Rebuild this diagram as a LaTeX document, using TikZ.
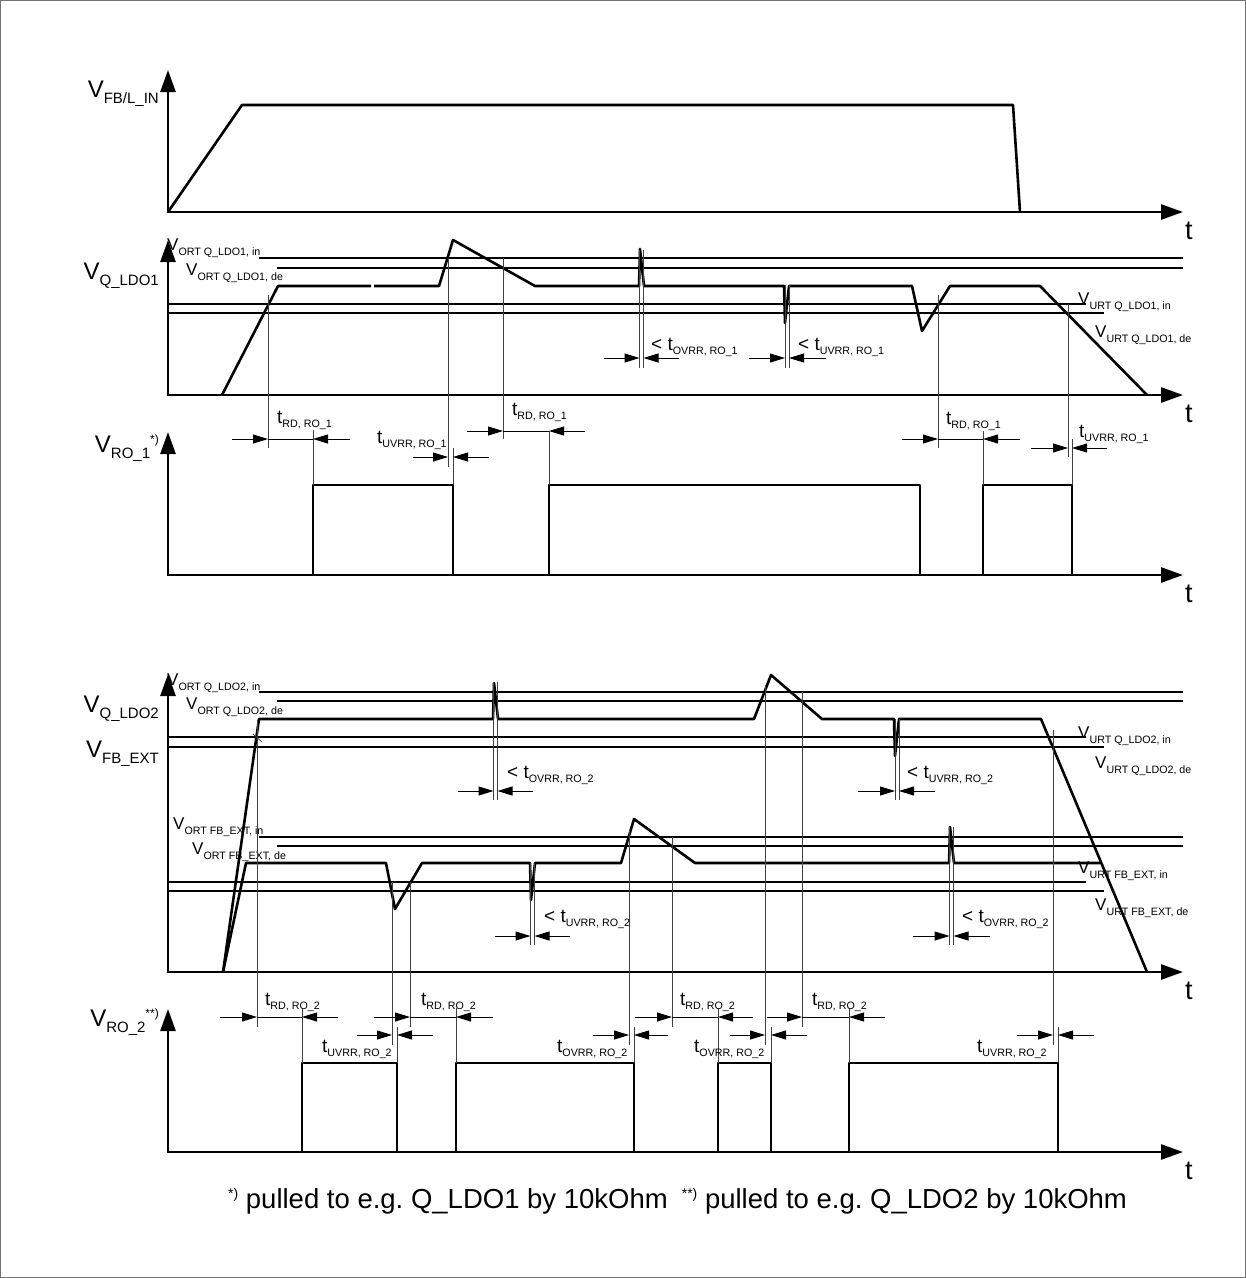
\documentclass[tikz,border=0pt]{standalone}
\usepackage{fontspec}
\setmainfont{Liberation Sans}
\usetikzlibrary{arrows.meta}
\frenchspacing
\newcommand{\tlabx}[1]{{\fontsize{19}{19}\selectfont t}{\fontsize{10.7}{10.7}\selectfont\raisebox{-4pt}{#1}}}
\newcommand{\ltlabx}[1]{{\fontsize{19}{19}\selectfont < t}{\fontsize{10.7}{10.7}\selectfont\raisebox{-4pt}{#1}}}
\newcommand{\vlabx}[1]{{\fontsize{17}{17}\selectfont V}{\fontsize{10.7}{10.7}\selectfont\raisebox{-5pt}{#1}}}
\newcommand{\axlabx}[1]{{\fontsize{24}{24}\selectfont V}{\fontsize{15}{15}\selectfont\raisebox{-6pt}{#1}}}
\newcommand{\suplabx}[1]{{\fontsize{12}{12}\selectfont\raisebox{9pt}{#1}}}
\newcommand{\fnsupx}[1]{{\fontsize{14}{14}\selectfont\raisebox{10pt}{#1}}}
\tikzset{
  sigline/.style={line width=2.6pt, line join=round},
  axisline/.style={line width=2.6pt, -{Triangle[length=22pt,width=15pt]}},
  thr/.style={line width=1.1pt},
  vmk/.style={line width=0.8pt, black!75},
  dimar/.style={line width=1pt, -{Triangle[length=15pt,width=9pt]}},
  dimln/.style={line width=1pt},
  lab/.style={inner sep=0pt, anchor=base west},
  tax/.style={inner sep=0pt, anchor=base west, font=\fontsize{27}{27}\selectfont},
}
\begin{document}
\begin{tikzpicture}[x=1pt,y=-1pt]
\useasboundingbox (0,0) rectangle (1246,1278);
\draw[line width=1pt, black!55] (0.5,0.5) rectangle (1245.5,1277.5);

% ---------------- Panel 1 : V_FB/L_IN
\draw[axisline] (168,213.3) -- (168,70);
\draw[axisline] (166.7,212) -- (1183,212);
\node[lab,anchor=base east] (l1) at (159,97) {\axlabx{FB/L\_IN}};
\node[tax] (t1) at (1185,239) {t};
\draw[sigline] (168,212) -- (242,105) -- (1013,105) -- (1020,212);

% ---------------- Panel 2 : V_Q_LDO1
\draw[axisline] (168,396.3) -- (168,240);
\draw[axisline] (166.7,395) -- (1183,395);
\node[lab,anchor=base east] (l2) at (159,279) {\axlabx{Q\_LDO1}};
\node[tax] (t2) at (1185,422) {t};
\draw[thr] (259,258) -- (1183,258);
\draw[thr] (277,268) -- (1183,268);
\draw[thr] (168,304) -- (1086,304);
\draw[thr] (168,313) -- (1104,313);
\node[lab] (o1i) at (167,250) {\vlabx{ORT Q\_LDO1, in}};
\node[lab] (o1d) at (186,275) {\vlabx{ORT Q\_LDO1, de}};
\node[lab] (u1i) at (1078,304) {\vlabx{URT Q\_LDO1, in}};
\node[lab] (u1d) at (1095,337) {\vlabx{URT Q\_LDO1, de}};
\draw[sigline] (222,395) -- (278,286) -- (371,286);
\draw[sigline] (374,286) -- (439,286) -- (453,240) -- (535,286) -- (639,286) -- (640,249) -- (644,286)
  -- (784,286) -- (785,323) -- (789,286) -- (912,286) -- (922,331) -- (950,286) -- (1040,286) -- (1147,395);
% markers
\draw[vmk] (268,295) -- (268,448);
\draw[vmk] (448,258) -- (448,467);
\draw[vmk] (503,258) -- (503,439);
\draw[vmk] (938,295) -- (938,448);
\draw[vmk] (1068,304) -- (1068,457);
\draw[vmk] (639.5,250) -- (639.5,368);
\draw[vmk] (643.5,250) -- (643.5,368);
\draw[vmk] (785,285) -- (785,368);
\draw[vmk] (789,285) -- (789,368);
% overshoot / undershoot dims
\draw[dimar] (604,358) -- (639.5,358);
\draw[dimar] (679,358) -- (643.5,358);
\draw[dimar] (749,358) -- (785,358);
\draw[dimar] (826,358) -- (789,358);
\node[lab] (ov1) at (651,350) {\ltlabx{OVRR, RO\_1}};
\node[lab] (uv1) at (798,350) {\ltlabx{UVRR, RO\_1}};

% ---------------- Panel 3 : V_RO_1
\draw[axisline] (168,576.3) -- (168,432);
\draw[axisline] (166.7,575) -- (1183,575);
\node[lab,anchor=base east] (l3) at (159,452) {\axlabx{RO\_1}\suplabx{*)}};
\node[tax] (t3) at (1185,602) {t};
\draw[sigline] (313,575) -- (313,485) -- (453,485) -- (453,575);
\draw[sigline] (549,575) -- (549,485) -- (920,485) -- (920,575);
\draw[sigline] (983,575) -- (983,485) -- (1072,485) -- (1072,575);
\draw[vmk] (313,430) -- (313,485);
\draw[vmk] (453,448) -- (453,485);
\draw[vmk] (549,431) -- (549,485);
\draw[vmk] (983,431) -- (983,485);
\draw[vmk] (1072,439) -- (1072,485);
% t_RD 1
\draw[dimar] (232,439) -- (268,439);
\draw[dimar] (350,439) -- (313,439);
\draw[dimln] (268,439) -- (313,439);
\node[lab] (rd1a) at (277,423) {\tlabx{RD, RO\_1}};
% t_UVRR 1
\draw[dimar] (413,457) -- (448,457);
\draw[dimar] (489,457) -- (453,457);
\node[lab] (uv1a) at (377,443) {\tlabx{UVRR, RO\_1}};
% t_RD 2
\draw[dimar] (467,431) -- (503,431);
\draw[dimar] (585,431) -- (549,431);
\draw[dimln] (503,431) -- (549,431);
\node[lab] (rd1b) at (512,415) {\tlabx{RD, RO\_1}};
% t_RD 3
\draw[dimar] (902,439) -- (938,439);
\draw[dimar] (1020,439) -- (983,439);
\draw[dimln] (938,439) -- (983,439);
\node[lab] (rd1c) at (946,424) {\tlabx{RD, RO\_1}};
% t_UVRR 2
\draw[dimar] (1031,448) -- (1068,448);
\draw[dimar] (1107,448) -- (1072,448);
\node[lab] (uv1b) at (1079,437) {\tlabx{UVRR, RO\_1}};

% ---------------- Panel 4 : V_Q_LDO2 / V_FB_EXT
\draw[axisline] (168,973.3) -- (168,674);
\draw[axisline] (166.7,972) -- (1183,972);
\node[lab,anchor=base east] (l4a) at (159,712) {\axlabx{Q\_LDO2}};
\node[lab,anchor=base east] (l4b) at (159,757) {\axlabx{FB\_EXT}};
\node[tax] (t4) at (1185,999) {t};
\draw[thr] (259,692) -- (1183,692);
\draw[thr] (277,701) -- (1183,701);
\draw[thr] (168,737) -- (1086,737);
\draw[thr] (168,747) -- (1104,747);
\draw[thr] (259,837) -- (1183,837);
\draw[thr] (277,846) -- (1183,846);
\draw[thr] (168,882) -- (1086,882);
\draw[thr] (168,891) -- (1104,891);
\node[lab] (o2i) at (167,685) {\vlabx{ORT Q\_LDO2, in}};
\node[lab] (o2d) at (186,709) {\vlabx{ORT Q\_LDO2, de}};
\node[lab] (u2i) at (1078,738) {\vlabx{URT Q\_LDO2, in}};
\node[lab] (u2d) at (1095,768) {\vlabx{URT Q\_LDO2, de}};
\node[lab] (ofi) at (173,829) {\vlabx{ORT FB\_EXT, in}};
\node[lab] (ofd) at (192,854) {\vlabx{ORT FB\_EXT, de}};
\node[lab] (ufi) at (1078,873) {\vlabx{URT FB\_EXT, in}};
\node[lab] (ufd) at (1095,910) {\vlabx{URT FB\_EXT, de}};
% Q_LDO2 signal
\draw[sigline] (223,972) -- (259,719) -- (493,719) -- (494,683) -- (498,719) -- (754,719) -- (771,675) -- (822,719)
  -- (894,719) -- (895,756) -- (899,719) -- (1041,719) -- (1147,972);
% FB_EXT signal
\draw[sigline] (223,972) -- (246,863) -- (386,863) -- (395,909) -- (422,863) -- (530,863) -- (531,900) -- (535,863)
  -- (621,863) -- (634,819) -- (695,863) -- (949,863) -- (950,827) -- (954,863) -- (1100,863);
\draw[vmk] (253,734) -- (262,742);
% markers
\draw[vmk] (257,720) -- (257,1027);
\draw[vmk] (392,882) -- (392,1045);
\draw[vmk] (410,882) -- (410,1027);
\draw[vmk] (629,830) -- (629,1045);
\draw[vmk] (672,837) -- (672,1027);
\draw[vmk] (765,685) -- (765,1045);
\draw[vmk] (802,692) -- (802,1027);
\draw[vmk] (1053,730) -- (1053,1045);
\draw[vmk] (493.5,682) -- (493.5,800);
\draw[vmk] (497.5,682) -- (497.5,800);
\draw[vmk] (895,719) -- (895,800);
\draw[vmk] (899,719) -- (899,800);
\draw[vmk] (530.5,863) -- (530.5,945);
\draw[vmk] (534.5,863) -- (534.5,945);
\draw[vmk] (949.5,827) -- (949.5,945);
\draw[vmk] (953.5,827) -- (953.5,945);
\draw[dimar] (458,791) -- (493.5,791);
\draw[dimar] (533,791) -- (497.5,791);
\draw[dimar] (858,791) -- (895,791);
\draw[dimar] (935,791) -- (899,791);
\draw[dimar] (495,936) -- (530.5,936);
\draw[dimar] (570,936) -- (534.5,936);
\draw[dimar] (913,936) -- (949.5,936);
\draw[dimar] (990,936) -- (953.5,936);
\node[lab] (ov2a) at (507,778) {\ltlabx{OVRR, RO\_2}};
\node[lab] (uv2a) at (907,778) {\ltlabx{UVRR, RO\_2}};
\node[lab] (uv2b) at (544,922) {\ltlabx{UVRR, RO\_2}};
\node[lab] (ov2b) at (962,922) {\ltlabx{OVRR, RO\_2}};

% ---------------- Panel 5 : V_RO_2
\draw[axisline] (168,1153.3) -- (168,1009);
\draw[axisline] (166.7,1152) -- (1183,1152);
\node[lab,anchor=base east] (l5) at (159,1026) {\axlabx{RO\_2}\suplabx{**)}};
\node[tax] (t5) at (1185,1179) {t};
\draw[sigline] (302,1152) -- (302,1063) -- (397,1063) -- (397,1152);
\draw[sigline] (456,1152) -- (456,1063) -- (634,1063) -- (634,1152);
\draw[sigline] (718,1152) -- (718,1063) -- (771,1063) -- (771,1152);
\draw[sigline] (849,1152) -- (849,1063) -- (1058,1063) -- (1058,1152);
\draw[vmk] (302,1008) -- (302,1063);
\draw[vmk] (397,1027) -- (397,1063);
\draw[vmk] (456,1008) -- (456,1063);
\draw[vmk] (634,1027) -- (634,1063);
\draw[vmk] (718,1008) -- (718,1063);
\draw[vmk] (771,1027) -- (771,1063);
\draw[vmk] (849,1008) -- (849,1063);
\draw[vmk] (1058,1027) -- (1058,1063);
% dims
\draw[dimar] (220,1017) -- (257,1017);
\draw[dimar] (338,1017) -- (302,1017);
\draw[dimln] (257,1017) -- (302,1017);
\node[lab] (rd2a) at (265,1005) {\tlabx{RD, RO\_2}};
\draw[dimar] (357,1035) -- (392,1035);
\draw[dimar] (433,1035) -- (397,1035);
\node[lab] (uv2c) at (322,1052) {\tlabx{UVRR, RO\_2}};
\draw[dimar] (374,1017) -- (410,1017);
\draw[dimar] (493,1017) -- (456,1017);
\draw[dimln] (410,1017) -- (456,1017);
\node[lab] (rd2b) at (421,1005) {\tlabx{RD, RO\_2}};
\draw[dimar] (593,1035) -- (629,1035);
\draw[dimar] (668,1035) -- (634,1035);
\node[lab] (ov2c) at (557,1052) {\tlabx{OVRR, RO\_2}};
\draw[dimar] (635,1017) -- (672,1017);
\draw[dimar] (753,1017) -- (718,1017);
\draw[dimln] (672,1017) -- (718,1017);
\node[lab] (rd2c) at (680,1005) {\tlabx{RD, RO\_2}};
\draw[dimar] (730,1035) -- (765,1035);
\draw[dimar] (807,1035) -- (771,1035);
\node[lab] (ov2d) at (694,1052) {\tlabx{OVRR, RO\_2}};
\draw[dimar] (767,1017) -- (802,1017);
\draw[dimar] (885,1017) -- (849,1017);
\draw[dimln] (802,1017) -- (849,1017);
\node[lab] (rd2d) at (812,1005) {\tlabx{RD, RO\_2}};
\draw[dimar] (1017,1035) -- (1053,1035);
\draw[dimar] (1094,1035) -- (1058,1035);
\node[lab] (uv2d) at (977,1052) {\tlabx{UVRR, RO\_2}};

% ---------------- footnote
\node[lab] (fn) at (228,1208) {\fontsize{27.5}{27.5}\selectfont\fnsupx{*)} pulled to e.g. Q\_LDO1 by 10kOhm\hspace{14pt}\fnsupx{**)} pulled to e.g. Q\_LDO2 by 10kOhm};
\end{tikzpicture}
\end{document}
